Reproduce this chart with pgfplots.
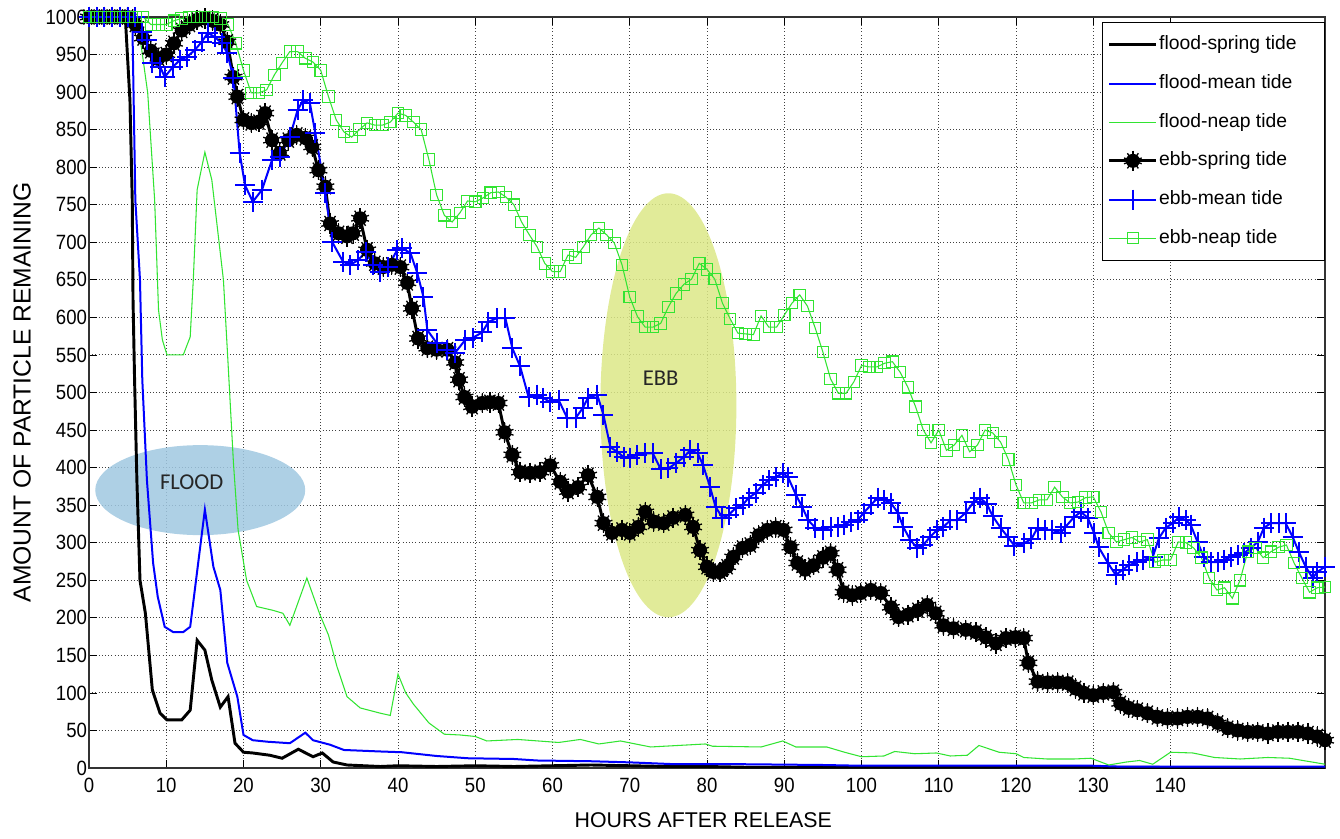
\documentclass[border=0pt]{standalone}
\usepackage{pgfplots}
\pgfplotsset{compat=1.18}
\usepackage{fontspec}
\setmainfont{Liberation Sans}
\newfontfamily\narrow{Liberation Sans}[FakeStretch=0.9]
\newfontfamily\calibri{Carlito}
\usetikzlibrary{plotmarks}
\definecolor{mblue}{rgb}{0,0,1}
\definecolor{mgreen}{RGB}{50,228,50}
\definecolor{floodc}{RGB}{160,200,225}
\definecolor{ebbc}{RGB}{220,232,135}
\pgfdeclareplotmark{blobstar}{%
  \pgfuseplotmark{10-pointed star}%
  \pgfpathcircle{\pgfpointorigin}{0.68\pgfplotmarksize}\pgfusepathqfillstroke
  \pgfpathmoveto{\pgfqpoint{0pt}{1.1\pgfplotmarksize}}\pgfpathlineto{\pgfqpoint{0pt}{-1.1\pgfplotmarksize}}\pgfusepathqstroke
}
\begin{document}
\begin{tikzpicture}
\begin{axis}[
  width=927pt, height=563.25pt, scale only axis,
  xmin=0, xmax=160, ymin=0, ymax=1000,
  xtick={0,10,...,140}, ytick={0,50,...,1000},
  grid=major, major grid style={dotted, black!75, line width=0.7pt},
  tick align=inside, major tick length=6pt, tick style={black, line width=0.6pt},
  xtick pos=both, ytick pos=both,
  axis line style={black!80, line width=0.8pt},
  /pgf/number format/assume math mode=true,
  /pgf/number format/1000 sep={},
  tick label style={font=\narrow\fontsize{15.5}{17}\selectfont},
  xticklabel style={yshift=-4pt},
  yticklabel style={xshift=2pt},
  xlabel={HOURS AFTER RELEASE},
  ylabel={AMOUNT OF PARTICLE REMAINING},
  xlabel style={font=\fontsize{16}{18}\selectfont, at={(axis description cs:0.497,-0.069)}, anchor=center},
  ylabel style={font=\fontsize{18.5}{20}\selectfont, at={(axis description cs:-0.054,0.5)}, anchor=center, rotate=0},
  legend style={at={(1,0.993)}, anchor=north east, draw=black, fill=white,
    font=\fontsize{14.5}{16}\selectfont, row sep=13.5pt, inner xsep=4pt, inner ysep=9pt,
    nodes={inner sep=1pt, text height=10.5pt, text depth=3pt}},
  legend cell align=left,
  legend image code/.code={\draw[mark repeat=2, mark phase=2, #1] plot coordinates {(0cm,0cm) (0.62cm,0cm) (1.24cm,0cm)};},
]
% annotation ellipses
\fill[floodc, fill opacity=0.85] (axis cs:14.4,370) ellipse [x radius=78.75pt, y radius=33.75pt];
\fill[ebbc, fill opacity=0.85] (axis cs:75,483) ellipse [x radius=51pt, y radius=159pt];

% flood-spring
\addplot[black, line width=2.2pt] coordinates {
(0,1000) (4.7,1000) (5.3,889) (5.6,756) (5.7,623) (5.9,517) (6.2,383) (6.6,250) (7.3,206) (8.2,104) (9.2,73) (10.1,64) (12,64) (13.1,77) (14,170) (15,157) (15.9,117) (17,81) (18,95) (18.9,33) (20,21) (21.2,20) (23.4,17) (25,13) (27.1,25) (29,15) (30.2,20) (31.6,8) (33.4,4) (37.7,2) (40,3) (45,2) (50,3) (55,2) (60,3) (65,4) (70,3) (75,2) (80,2) (85,1) (100,1) (130,1) (160,0)};
\addlegendentry{flood-spring tide\rule{16pt}{0pt}}
% flood-mean
\addplot[mblue, line width=1.5pt] coordinates {
(0,1000) (5.6,1000) (6,756) (6.6,650) (6.9,517) (7.5,383) (8.3,273) (8.9,228) (9.8,188) (10.9,181) (12.2,181) (13.1,188) (15,344) (16.1,268) (17,237) (17.9,140) (19.2,95) (20,44) (21.2,37) (23.1,35) (26,33) (28,47) (29,37) (31.2,31) (33,24) (37.7,22) (40.5,21) (45,16) (49,13) (55,12) (58,10) (65,9) (70,7.5) (76,5) (85,5) (95,4) (100,3) (130,3) (133,2) (160,2)};
\addlegendentry{flood-mean tide}
% flood-neap
\addplot[mgreen, line width=0.8pt] coordinates {
(0,1000) (6,1000) (6.6,973) (7.6,899) (8.5,756) (9.0,610) (9.5,570) (10.1,550) (12.2,550) (13.1,574) (13.5,650) (14,770) (15,820) (15.9,783) (16.7,712) (17.4,650) (18,539) (18.7,406) (19.3,317) (20.4,250) (21.7,215) (23.8,210) (25.1,206) (26,190) (28.2,253) (29.9,204) (31,177) (32.1,135) (33.4,95) (35.1,80) (37.7,73) (39,70) (40,125) (41,100) (42,85) (44,60) (46,45) (48,44) (50,42) (51.5,36) (55.5,38) (60.8,34) (63.6,38) (66,32) (68.8,36) (72.7,28) (79.8,32) (80.7,29) (87,28) (89.8,36) (91.5,28) (95.5,28) (97.8,21) (100,15) (102.9,16) (104.3,22) (106.9,19) (109.7,20) (111.5,16) (113.7,17) (115.2,30) (117.8,21) (120,19) (121,14) (124,12) (127.5,12) (129.7,13) (132,4) (134.3,8) (136,10) (137.7,5) (140,21) (142.9,20) (145.7,14) (149,12) (152.6,14) (155.4,13) (158.3,8) (160,5)};
\addlegendentry{flood-neap tide}
% ebb-spring
\addplot[black, line width=2.2pt, mark=blobstar, mark size=7pt, mark options={solid, fill=black, line width=1pt}] coordinates {
(0,1000) (1,1000) (2,1000) (3,1000) (4,1000) (5,1000) (6,990) (7,972) (8,955) (9,945) (10,950) (11,965) (12,982) (13,990) (14,996) (15,998) (16,995) (17,990) (17.9,967) (18.7,920) (19.2,894) (20,863) (21,859) (22,860) (22.8,872) (23.7,836) (24.7,819) (25.8,836) (26.9,843) (28,839) (28.9,827) (29.7,796) (30.6,774) (31.2,725) (32.3,712) (33.4,708) (34.2,712) (35.1,732) (36,690) (37,672) (38.1,667) (39.2,670) (40.3,667) (41.2,646) (41.8,612) (42.6,572) (43.8,559) (45,557) (46.4,557) (47.4,540) (47.9,517) (48.6,494) (49.6,481) (50.9,486) (51.9,487) (53,486) (53.8,447) (54.8,417) (55.8,394) (57.1,393) (58.4,394) (59.7,403) (61,381) (62,368) (63.3,374) (64.6,390) (65.8,361) (66.6,326) (67.7,313) (69,317) (70,313) (71.1,321) (72,341) (73.1,328) (74.4,326) (75.6,333) (77.2,337) (78.2,321) (79.1,290) (80,268) (80.8,261) (81.7,261) (82.6,268) (83.4,281) (84.6,293) (85.6,297) (86.7,310) (87.8,317) (88.9,320) (89.9,317) (90.8,294) (91.7,273) (92.7,264) (93.8,270) (95,280) (96,286) (96.9,264) (97.7,234) (98.8,230) (99.9,233) (101.2,237) (102.5,233) (103.8,214) (104.8,201) (106,204) (107.3,210) (108.5,217) (109.6,206) (110.6,190) (111.9,186) (113.5,184) (114.8,181) (116.1,174) (117.4,166) (118.7,173) (119.9,174) (121,173) (121.6,140) (122.8,115) (124.1,114) (125.4,114) (126.7,113) (127.7,106) (128.8,100) (130,97) (131.3,100) (132.6,101) (133.5,86) (134.6,80) (135.7,77) (137,73) (138.3,68) (139.6,66) (140.9,66) (142.2,68) (143.5,68) (144.8,66) (146.1,60) (147.4,53) (148.7,50) (150,48) (151.3,48) (152.6,46) (153.9,48) (155.2,48) (156.5,48) (157.8,46) (159,42) (160,37)};
\addlegendentry{ebb-spring tide}
% ebb-mean
\addplot[mblue, line width=1.5pt, mark=+, mark size=7.5pt, mark options={solid, line width=1.5pt}] coordinates {
(0,1000) (1,1000) (2,1000) (3,1000) (4,1000) (5,1000) (6,1000) (6.9,980) (7.5,969) (8.2,939) (9.2,934) (9.8,920) (10.9,934) (11.8,943) (12.7,947) (13.7,956) (14.6,967) (15.4,979) (16.3,973) (17.2,965) (17.9,952) (18.7,919) (19.5,819) (20.2,776) (21.2,754) (22.4,770) (23.7,810) (24.7,814) (26,840) (27,876) (27.7,889) (28.6,885) (29.3,845) (30.6,765) (31.5,700) (32.9,674) (33.8,670) (34.8,676) (35.8,687) (36.8,670) (37.7,660) (38.7,667) (39.9,690) (40.5,692) (41.6,686) (42.5,659) (43.3,627) (43.8,583) (45,566) (46.4,557) (47.4,553) (48.7,570) (49.7,573) (50.9,580) (51.7,594) (52.8,599) (53.9,599) (54.8,559) (55.8,535) (56.9,494) (58,497) (58.8,493) (59.7,487) (60.8,490) (61.9,466) (63,466) (63.9,479) (64.6,493) (65.8,497) (66.6,470) (67.5,427) (68.4,421) (69.2,414) (70,413) (71,417) (72,419) (73,419) (74,398) (75,399) (76,406) (77,414) (77.8,423) (78.8,419) (79.5,403) (80.4,374) (81.1,348) (82,333) (82.8,337) (83.7,346) (84.6,350) (85.4,360) (86.3,366) (87.2,377) (88,383) (88.9,387) (89.8,393) (90.5,387) (91.5,364) (92.3,348) (93.1,330) (94,320) (95,317) (96,321) (96.9,321) (97.7,324) (98.6,328) (99.5,330) (100.3,340) (101.2,350) (102.1,360) (102.9,357) (103.8,353) (104.7,340) (105.4,321) (106.3,304) (107.2,293) (108,297) (108.9,308) (109.8,317) (110.6,321) (111.5,330) (112.4,330) (113.5,340) (114.5,354) (115.3,360) (116.2,352) (117,335) (118,320) (118.9,308) (119.8,296) (121,299) (122,305) (122.8,320) (123.8,317) (124.7,317) (125.8,313) (126.4,321) (127.5,334) (128.4,341) (129.3,333) (130.1,313) (130.7,294) (131.9,273) (132.9,257) (133.8,264) (134.6,270) (135.7,274) (136.5,277) (137.7,281) (138.5,306) (139.4,320) (140.3,326) (141.1,334) (142,330) (142.6,324) (143.5,301) (144.3,281) (145.2,274) (146.1,274) (146.9,277) (147.8,281) (148.7,284) (149.5,286) (150.4,293) (151.3,301) (152.1,320) (153,326) (154,326) (154.9,326) (155.8,308) (156.6,288) (157.5,268) (158.4,253) (159,261) (160,268)};
\addlegendentry{ebb-mean tide}
% ebb-neap
\addplot[mgreen, line width=0.8pt, mark=square, mark size=4.3pt, mark options={solid, line width=0.8pt}] coordinates {
(0,1000) (1,1000) (2,1000) (3,1000) (4,1000) (5,1000) (6,1000) (7,1000) (8,990) (9,990) (10,990) (11,995) (12,998) (13,1000) (14,1000) (15,1000) (16,1000) (17,998) (18,990) (19,965) (20,929) (21,899) (22,899) (23,903) (24,923) (25,939) (26,954) (27,954) (28,945) (29,940) (30,929) (31,894) (32,863) (33,847) (34,840) (35,850) (36,859) (37,856) (38,856) (39,860) (40,872) (41,869) (42,860) (43,850) (44,810) (45,763) (46,736) (47,727) (48,739) (49,755) (50,754) (51,759) (52,766) (53,767) (54,760) (55,750) (56,727) (57,710) (58,694) (59,672) (60,661) (61,661) (62,683) (63,680) (64,694) (65,710) (66,719) (67,710) (68,699) (69,670) (70,627) (71,601) (72,587) (73,587) (74,592) (75,614) (76,632) (77,644) (78,651) (79,672) (80,664) (81,651) (82,619) (83,598) (84,579) (85,578) (86,577) (87,602) (88,587) (89,587) (90,603) (91,619) (92,630) (93,615) (94,586) (95,554) (96,518) (97,499) (98,499) (99,514) (100,536) (101,534) (102,534) (103,539) (104,541) (105,527) (106,507) (107,481) (108,450) (109,433) (110,450) (111,423) (112,430) (113,443) (114,421) (115,430) (116,450) (117,446) (118,434) (119,411) (120,377) (121,353) (122,353) (123,357) (124,357) (125,374) (126,361) (127,353) (128,354) (129,360) (130,361) (131,341) (132,313) (133,301) (134,304) (135,307) (136,301) (137,304) (138,274) (139,277) (140,277) (141,301) (142,300) (143,293) (144,280) (145,253) (146,237) (147,240) (148,226) (149,250) (150,288) (151,293) (152,280) (153,288) (154,294) (155,297) (156,273) (157,253) (158,234) (159,240) (160,241)};
\addlegendentry{ebb-neap tide}

\node[font=\calibri\fontsize{17}{20}\selectfont, text=black!85] at (axis cs:13.3,381) {FLOOD};
\node[font=\calibri\fontsize{17}{20}\selectfont, text=black!85] at (axis cs:74,519) {EBB};
\end{axis}
\path ([shift={(-66.75pt,-52.5pt)}]current axis.south west) rectangle ([shift={(11.25pt,12.75pt)}]current axis.north east);
\end{tikzpicture}
\end{document}
